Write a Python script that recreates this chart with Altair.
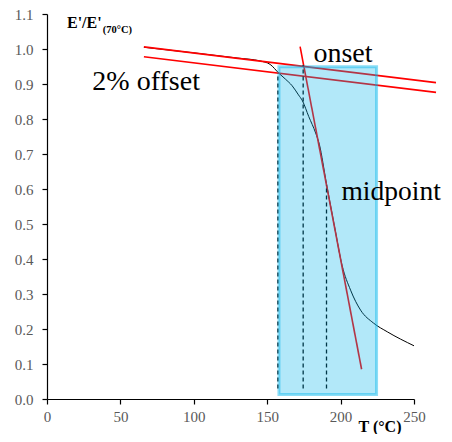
import altair as alt
import pandas as pd

# Modulus curve E'/E'(70°C) vs temperature
curve_T = [66, 100, 130, 145, 152, 157.9, 162.4, 167, 171.3, 174, 178.3, 183, 185.5, 190.4, 196, 201, 206.8, 213.6, 222.4, 231.8, 250]
curve_E = [1.005, 0.989, 0.974, 0.966, 0.956, 0.931, 0.914, 0.895, 0.869, 0.852, 0.807, 0.76, 0.728, 0.615, 0.49, 0.382, 0.311, 0.254, 0.217, 0.192, 0.152]

# Tangent lines (start/end points)
tangent_names = ["base", "base", "offset", "offset", "steep", "steep"]
tangent_T = [66, 265, 66, 265, 172.4, 214.3]
tangent_E = [1.006, 0.904, 0.978, 0.876, 1.007, 0.085]

# Characteristic temperatures (dashed markers)
marker_names = ["2% offset", "onset", "midpoint"]
marker_T = [157.3, 174.5, 190.4]
marker_top = [0.931, 0.954, 0.611]
marker_bottom = [0.03, 0.03, 0.03]

# Transition region box
box_T = [158.0, 224.5]
box_E = [0.013, 0.949]

# Annotations
label_text = ["onset", "2% offset", "midpoint"]
label_T = [181.5, 30.9, 200.6]
label_E = [0.964, 0.883, 0.569]
label_size = [28, 28, 27.5]

x_ticks = [0, 50, 100, 150, 200, 250]
y_ticks = [0.0, 0.1, 0.2, 0.3, 0.4, 0.5, 0.6, 0.7, 0.8, 0.9, 1.0, 1.1]

curve_df = pd.DataFrame({"T": curve_T, "E": curve_E})
tan_df = pd.DataFrame({"name": tangent_names, "T": tangent_T, "E": tangent_E})
mark_df = pd.DataFrame({"name": marker_names, "T": marker_T, "top": marker_top, "bottom": marker_bottom})
box_df = pd.DataFrame({"T1": [box_T[0]], "T2": [box_T[1]], "E1": [box_E[0]], "E2": [box_E[1]]})
lab_df = pd.DataFrame({"text": label_text, "T": label_T, "E": label_E, "size": label_size})
ytitle_df = pd.DataFrame({"text": ["E'/E'"], "T": [13.6], "E": [1.061]})
ysub_df = pd.DataFrame({"text": ["(70°C)"], "T": [38.0], "E": [1.046]})
xtitle_df = pd.DataFrame({"text": ["T (°C)"], "T": [212.2], "E": [-0.094]})

xscale = alt.Scale(domain=[0, 250], nice=False, zero=False)
yscale = alt.Scale(domain=[0, 1.1], nice=False, zero=False)

xax = alt.Axis(values=x_ticks, title=None, grid=False, format="d",
               labelFlush=False, labelOverlap=False, labelPadding=5, tickCount=6)
yax = alt.Axis(values=y_ticks, title=None, grid=False, format=".1f",
               labelFlush=False, labelOverlap=False, labelPadding=9, tickCount=12)


def X(field):
    return alt.X(field, type="quantitative", scale=xscale, axis=xax)


def Y(field):
    return alt.Y(field, type="quantitative", scale=yscale, axis=yax)


curve = alt.Chart(curve_df).mark_line(color="black", strokeWidth=1, interpolate="monotone").encode(
    x=X("T"), y=Y("E"), order="T:Q",
)

tangents = alt.Chart(tan_df).mark_line(color="#ff0000", strokeWidth=1.6).encode(
    x=X("T"), y=Y("E"), detail="name:N",
)

markers = alt.Chart(mark_df).mark_rule(color="black", strokeWidth=1.3, strokeDash=[4, 3]).encode(
    x=X("T"), y=Y("bottom"), y2="top:Q",
)

box = alt.Chart(box_df).mark_rect(
    fill="#00b4eb", fillOpacity=0.3, stroke="#00b4eb", strokeOpacity=0.45, strokeWidth=3
).encode(
    x=X("T1"), x2="T2:Q", y=Y("E1"), y2="E2:Q",
)

labels = alt.Chart(lab_df).mark_text(
    font="Liberation Serif", color="black", align="left", baseline="alphabetic"
).encode(
    x=X("T"), y=Y("E"), text="text:N",
    size=alt.Size("size:Q", scale=None, legend=None),
)

ytitle = alt.Chart(ytitle_df).mark_text(
    font="Liberation Serif", fontSize=16, fontWeight="bold", color="black", align="left", baseline="alphabetic"
).encode(x=X("T"), y=Y("E"), text="text:N")

ysub = alt.Chart(ysub_df).mark_text(
    font="Liberation Serif", fontSize=10.5, fontWeight="bold", color="black", align="left", baseline="alphabetic"
).encode(x=X("T"), y=Y("E"), text="text:N")

xtitle = alt.Chart(xtitle_df).mark_text(
    font="Liberation Serif", fontSize=16, fontWeight="bold", color="black", align="left", baseline="alphabetic"
).encode(x=X("T"), y=Y("E"), text="text:N")

chart = alt.layer(curve, tangents, markers, box, labels, ytitle, ysub, xtitle).properties(
    width=367,
    height=385,
    autosize=alt.AutoSizeParams(type="none"),
    padding={"left": 39, "top": 6, "right": 30, "bottom": 35},
).configure_view(stroke=None).configure_axis(
    domainColor="black",
    domainWidth=1.2,
    tickColor="black",
    tickWidth=1.2,
    tickSize=5,
    labelColor="#595959",
    labelFont="Liberation Serif",
    labelFontSize=15,
)

chart.save("out.html", embed_options={"renderer": "svg", "actions": False})
